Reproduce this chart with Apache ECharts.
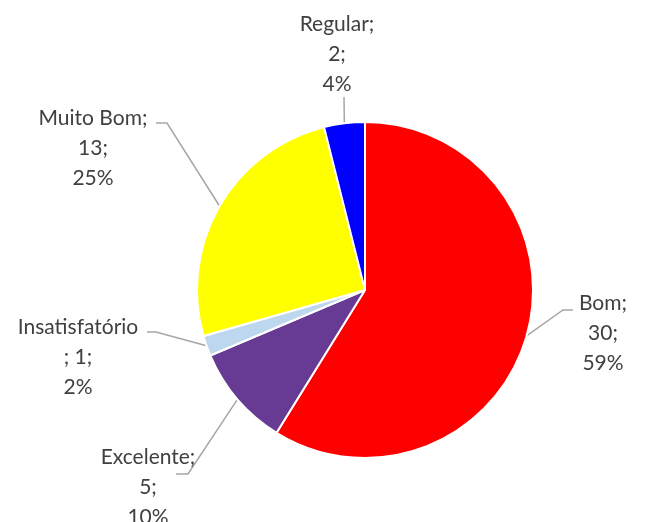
<!DOCTYPE html>
<html>
<head>
    <meta charset="utf-8">
    <title>Avaliação</title>
    <script src="https://cdn.jsdelivr.net/npm/echarts@6/dist/echarts.min.js"></script>
    <style>
        html, body { margin: 0; padding: 0; background: #fff; }
        #chart { width: 645px; height: 522px; }
    </style>
</head>
<body>
    <div id="chart"></div>
    <script type="text/javascript">
        // dados
        var categorias = ['Bom', 'Excelente', 'Insatisfatório', 'Muito Bom', 'Regular'];
        var valores = [30, 5, 1, 13, 2];
        var cores = ['#FF0000', '#673A93', '#BDD7EE', '#FFFF00', '#0000FF'];

        // posição dos rótulos (centro x, topo y) e ponta da linha guia [x, y, cotovelo dx]
        var rotulos = [
            [603, 288],
            [148, 442],
            [78, 312],
            [93, 103],
            [337, 9]
        ];
        var guias = [
            [573, 310, -10],
            [176, 474, 12],
            [147, 332, 9],
            [156, 123, 11],
            [344, 97, 0]
        ];

        var total = valores.reduce(function (a, b) { return a + b; }, 0);
        var centro = [365, 290], raio = 168;

        // ponto na borda da fatia, no ângulo médio
        function ancora(i) {
            var antes = 0;
            for (var k = 0; k < i; k++) antes += valores[k];
            var ang = (antes + valores[i] / 2) / total * 2 * Math.PI;
            return [centro[0] + raio * Math.sin(ang), centro[1] - raio * Math.cos(ang)];
        }

        var myChart = echarts.init(document.getElementById('chart'));
        var option = {
            animation: false,
            series: [{
                type: 'pie',
                center: centro,
                radius: raio,
                startAngle: 90,
                clockwise: true,
                itemStyle: { borderColor: '#fff', borderWidth: 2 },
                label: {
                    show: true,
                    color: '#404040',
                    fontFamily: 'Lato',
                    fontSize: 21,
                    lineHeight: 30,
                    align: 'center',
                    formatter: function (p) {
                        var pct = Math.round(p.value / total * 100) + '%';
                        if (p.name.length > 12) return p.name + '\n; ' + p.value + ';\n' + pct;
                        return p.name + ';\n' + p.value + ';\n' + pct;
                    }
                },
                labelLine: {
                    show: true,
                    lineStyle: { color: '#A6A6A6', width: 1.5 }
                },
                labelLayout: function (params) {
                    var i = params.dataIndex;
                    var r = rotulos[i], g = guias[i];
                    var a = ancora(i);
                    return {
                        x: r[0], y: r[1], align: 'center', verticalAlign: 'top',
                        labelLinePoints: [a, [g[0] + g[2], g[1]], [g[0], g[1]]]
                    };
                },
                data: categorias.map(function (c, i) {
                    return { name: c, value: valores[i], itemStyle: { color: cores[i] } };
                })
            }]
        };
        myChart.setOption(option);
    </script>
</body>
</html>
